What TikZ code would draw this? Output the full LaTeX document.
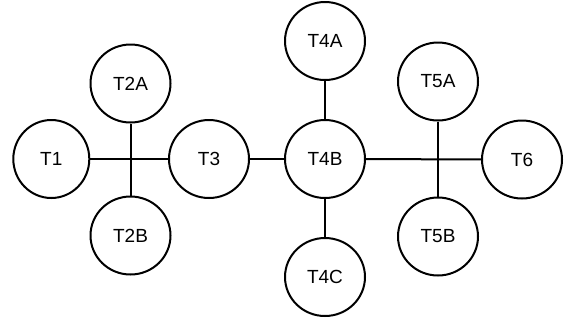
\documentclass[tikz,border=0pt]{standalone}
\usepackage{fontspec}
\setmainfont{Liberation Sans}
\usetikzlibrary{shapes.geometric}
\tikzset{
  tnode/.style={draw=black, line width=2pt, ellipse, minimum width=80pt, minimum height=78pt, inner sep=0pt, font=\fontsize{19}{21}\selectfont},
  link/.style={draw=black, line width=2pt}
}
\begin{document}
\begin{tikzpicture}[x=1pt,y=-1pt]
\useasboundingbox (0,0) rectangle (564,322);
\node[tnode, minimum width=76pt] (T1) at (51.3,159) {T1};
\node[tnode] (T2A) at (130.5,83.5) {T2A};
\node[tnode] (T2B) at (130.5,235.5) {T2B};
\node[tnode] (T3) at (209,159) {T3};
\node[tnode] (T4A) at (325,41) {T4A};
\node[tnode] (T4B) at (325,159) {T4B};
\node[tnode] (T4C) at (325,277) {T4C};
\node[tnode] (T5A) at (438,81.5) {T5A};
\node[tnode] (T5B) at (438,236.5) {T5B};
\node[tnode] (T6) at (522,159.5) {T6};
\draw[link] (T1) -- (T3);
\draw[link] (T2A) -- (T2B);
\draw[link] (T3) -- (T4B);
\draw[link] (T4A) -- (T4B);
\draw[link] (T4B) -- (T4C);
\draw[link] (T4B) -- (T6);
\draw[link] (T5A) -- (T5B);
\end{tikzpicture}
\end{document}
